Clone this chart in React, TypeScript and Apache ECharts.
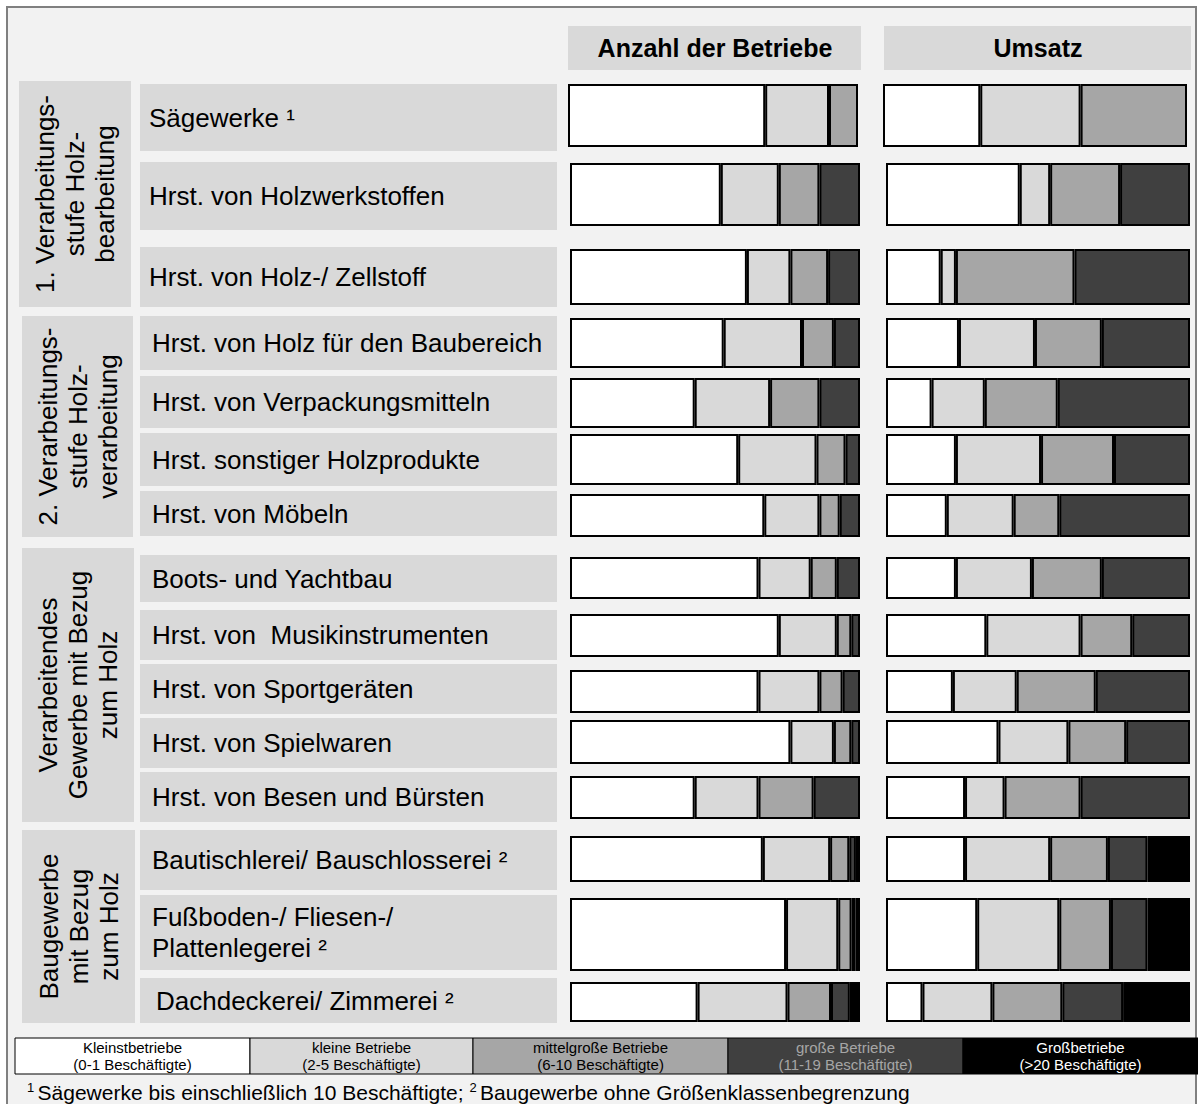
import React, { useEffect, useRef } from "react";
import * as echarts from "echarts";

const FONT = "'Liberation Sans', Arial, sans-serif";

// ---------- data ----------
const categories = [
  "Sägewerke ¹",
  "Hrst. von Holzwerkstoffen",
  "Hrst. von Holz-/ Zellstoff",
  "Hrst. von Holz für den Baubereich",
  "Hrst. von Verpackungsmitteln",
  "Hrst. sonstiger Holzprodukte",
  "Hrst. von Möbeln",
  "Boots- und Yachtbau",
  "Hrst. von  Musikinstrumenten",
  "Hrst. von Sportgeräten",
  "Hrst. von Spielwaren",
  "Hrst. von Besen und Bürsten",
  "Bautischlerei/ Bauschlosserei ²",
  "Fußboden-/ Fliesen-/\nPlattenlegerei ²",
  "Dachdeckerei/ Zimmerei ²",
];

const groupLabels = [
  "1. Verarbeitungs-\nstufe Holz-\nbearbeitung",
  "2. Verarbeitungs-\nstufe Holz-\nverarbeitung",
  "Verarbeitendes\nGewerbe mit Bezug\nzum Holz",
  "Baugewerbe\nmit Bezug\nzum Holz",
];

const panelTitles = ["Anzahl der Betriebe", "Umsatz"];

const sizeClasses = [
  "Kleinstbetriebe",
  "kleine Betriebe",
  "mittelgroße Betriebe",
  "große Betriebe",
  "Großbetriebe",
];
const sizeRanges = [
  "(0-1 Beschäftigte)",
  "(2-5 Beschäftigte)",
  "(6-10 Beschäftigte)",
  "(11-19 Beschäftigte)",
  "(>20 Beschäftigte)",
];

// Anzahl der Betriebe (% shares)
const anzahlKleinst = [68, 52, 61, 53, 43, 58, 67, 65, 72, 65, 76, 43, 66.5, 74.5, 44];
const anzahlKlein = [22, 20, 15, 27, 26, 27, 19, 18, 20, 21, 15, 22, 23.2, 18, 31];
const anzahlMittel = [10, 14, 13, 11, 17, 10, 7, 9, 5, 8, 6, 19, 6.6, 4.6, 15];
const anzahlGross = [0, 14, 11, 9, 14, 5, 7, 8, 3, 6, 3, 16, 2.3, 1.3, 6.5];
const anzahlGrossbetriebe = [0, 0, 0, 0, 0, 0, 0, 0, 0, 0, 0, 0, 1.4, 1.6, 3.5];

// Umsatz (% shares)
const umsatzKleinst = [32, 44, 18, 24, 15, 23, 20, 23, 33, 22, 37, 26, 26, 30, 12];
const umsatzKlein = [33, 10, 5, 25, 17.5, 28, 22, 25, 31, 21, 23, 13, 28, 27, 23];
const umsatzMittel = [35, 23, 39, 22, 24, 24, 15, 23, 17, 26, 19, 25, 19, 17, 23];
const umsatzGross = [0, 23, 38, 29, 43.5, 25, 43, 29, 19, 31, 21, 36, 13, 12, 20];
const umsatzGrossbetriebe = [0, 0, 0, 0, 0, 0, 0, 0, 0, 0, 0, 0, 14, 14, 22];

const footnote1 = "Sägewerke bis einschließlich 10 Beschäftigte; ";
const footnote2 = "Baugewerbe ohne Größenklassenbegrenzung";

// ---------- layout (positions / styles) ----------
const W = 1198;
const H = 1104;
const classColors = ["#ffffff", "#d9d9d9", "#a6a6a6", "#404040", "#000000"];
const legendTextColors = ["#000000", "#000000", "#000000", "#a6a6a6", "#ffffff"];

const barRows = [
  [83, 148], [162, 227], [248, 306],
  [317, 369], [377, 429], [433, 486], [493, 538],
  [556, 600], [613, 658], [669, 714], [719, 765], [775, 820],
  [835, 883], [897, 972], [981, 1023],
];
const boxRows = [
  [84, 151], [162, 230], [247, 307],
  [316, 370], [376, 428], [433, 486], [491, 536],
  [555, 602], [610, 660], [664, 714], [718, 768], [772, 822],
  [830, 890], [895, 970], [978, 1023],
];
const labelX = [149, 149, 149, 152, 152, 152, 152, 152, 152, 152, 152, 152, 152, 152, 156];
const groupBoxes = [
  [19, 131, 81, 307],
  [22, 133, 316, 537],
  [22, 134, 548, 822],
  [22, 135, 830, 1023],
];
const panelX = [
  [569, 861],
  [885, 1191],
];
const legendX = [15, 250, 473, 728, 963, 1198];

export default function App() {
  const ref = useRef<HTMLDivElement>(null);

  useEffect(() => {
    document.body.style.margin = "0";
    if (!ref.current) return;
    const chart = echarts.init(ref.current, undefined, { renderer: "svg" });

    const panels = [
      [anzahlKleinst, anzahlKlein, anzahlMittel, anzahlGross, anzahlGrossbetriebe],
      [umsatzKleinst, umsatzKlein, umsatzMittel, umsatzGross, umsatzGrossbetriebe],
    ];

    const grids: any[] = [];
    const xAxes: any[] = [];
    const yAxes: any[] = [];
    const series: any[] = [];

    categories.forEach((cat, i) => {
      panels.forEach((panel, p) => {
        const shift = i === 0 ? -2 - p : 0;
        const [x0, x1] = panelX[p];
        const [y0, y1] = barRows[i];
        const g = grids.length;
        grids.push({
          left: x0 + shift + 1,
          top: y0 + 1,
          width: x1 - x0 - 2,
          height: y1 - y0 - 2,
          containLabel: false,
        });
        xAxes.push({ type: "value", min: 0, max: 100, show: false, gridIndex: g });
        yAxes.push({ type: "category", data: [cat], show: false, gridIndex: g });
        panel.forEach((arr, k) => {
          const v = arr[i];
          series.push({
            type: "bar",
            name: sizeClasses[k],
            xAxisIndex: g,
            yAxisIndex: g,
            stack: "s" + g,
            barWidth: "100%",
            silent: true,
            data: [v > 0 ? v : "-"],
            itemStyle: {
              color: classColors[k],
              borderColor: "#000",
              borderWidth: 2,
            },
          });
        });
      });
    });

    const graphics: any[] = [];
    // frame + background
    graphics.push({
      type: "rect",
      z: -10,
      shape: { x: 7, y: 7, width: 1189, height: 1120 },
      style: { fill: "#f2f2f2", stroke: "#808080", lineWidth: 2 },
    });
    // header boxes
    panelTitles.forEach((t, p) => {
      const [x0, x1] = panelX[p];
      graphics.push({
        type: "rect",
        shape: { x: x0 - 1, y: 26, width: x1 - x0 + 1, height: 44 },
        style: { fill: "#d9d9d9" },
      });
      graphics.push({
        type: "text",
        x: (x0 + x1) / 2,
        y: 48,
        style: {
          text: t,
          fontSize: 25,
          fontWeight: "bold",
          fontFamily: FONT,
          fill: "#000",
          align: "center",
          verticalAlign: "middle",
        },
      });
    });
    // group boxes
    groupLabels.forEach((t, gi) => {
      const [x0, x1, y0, y1] = groupBoxes[gi];
      graphics.push({
        type: "rect",
        shape: { x: x0, y: y0, width: x1 - x0, height: y1 - y0 },
        style: { fill: "#d9d9d9" },
      });
      graphics.push({
        type: "text",
        x: (x0 + x1) / 2,
        y: (y0 + y1) / 2,
        rotation: Math.PI / 2,
        style: {
          text: t,
          fontSize: 26,
          lineHeight: 30,
          fontFamily: FONT,
          fill: "#000",
          align: "center",
          verticalAlign: "middle",
        },
      });
    });
    // category boxes
    categories.forEach((cat, i) => {
      const [y0, y1] = boxRows[i];
      graphics.push({
        type: "rect",
        shape: { x: 140, y: y0, width: 417, height: y1 - y0 },
        style: { fill: "#d9d9d9" },
      });
      graphics.push({
        type: "text",
        x: labelX[i],
        y: (y0 + y1) / 2,
        style: {
          text: cat,
          fontSize: 26,
          lineHeight: 31,
          fontFamily: FONT,
          fill: "#000",
          align: "left",
          verticalAlign: "middle",
        },
      });
    });
    // legend
    sizeClasses.forEach((c, k) => {
      const x0 = legendX[k];
      const x1 = legendX[k + 1];
      graphics.push({
        type: "rect",
        shape: { x: x0, y: 1038, width: x1 - x0, height: 36 },
        style: { fill: classColors[k], stroke: "#000", lineWidth: 1 },
      });
      graphics.push({
        type: "text",
        x: (x0 + x1) / 2,
        y: 1056,
        style: {
          text: c + "\n" + sizeRanges[k],
          fontSize: 15,
          lineHeight: 17,
          fontFamily: FONT,
          fill: legendTextColors[k],
          align: "center",
          verticalAlign: "middle",
        },
      });
    });
    // footnote
    graphics.push({
      type: "text",
      x: 27,
      y: 1092,
      style: {
        text: "{s|1} {t|" + footnote1 + "}{s|2} {t|" + footnote2 + "}",
        fontFamily: FONT,
        fill: "#000",
        align: "left",
        verticalAlign: "middle",
        rich: {
          s: { fontSize: 13, fontFamily: FONT, padding: [0, 0, 10, 0] },
          t: { fontSize: 21, fontFamily: FONT },
        },
      },
    });

    chart.setOption({
      animation: false,
      backgroundColor: "#ffffff",
      grid: grids,
      xAxis: xAxes,
      yAxis: yAxes,
      series,
      graphic: { elements: graphics },
    });

    return () => chart.dispose();
  }, []);

  return <div ref={ref} style={{ width: W, height: H }} />;
}
